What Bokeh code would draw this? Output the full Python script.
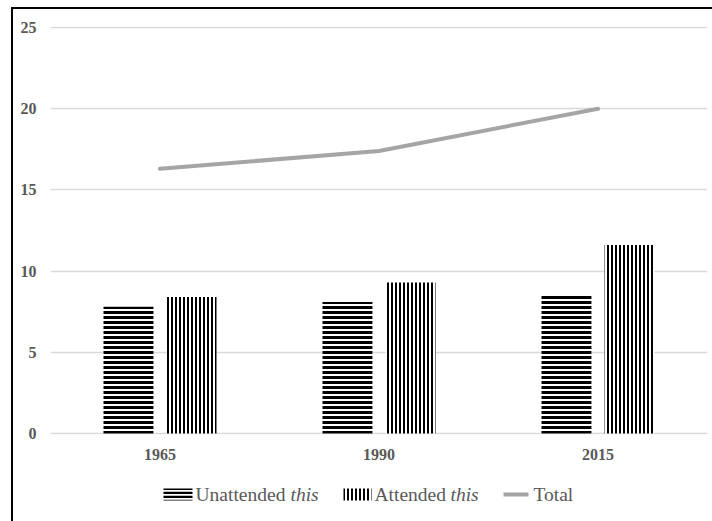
from bokeh.plotting import figure
from bokeh.models import ColumnDataSource, FactorRange, Range1d, FixedTicker
from bokeh.layouts import column
from bokeh.transform import dodge
from bokeh.core.properties import value
from bokeh.embed import file_html
from bokeh.resources import INLINE

years = ["1965", "1990", "2015"]
unattended = [7.8, 8.1, 8.5]
attended = [8.4, 9.3, 11.6]
total = [16.3, 17.4, 20.0]
y_ticks = [0, 5, 10, 15, 20, 25]
legend_labels = ["Unattended", "Attended", "Total"]
legend_suffix = ["this", "this"]

FONT = "Liberation Serif"
TXT = "#595959"
GRAY = "#a5a5a5"

src = ColumnDataSource(dict(year=years, unattended=unattended, attended=attended, total=total))

p = figure(width=699, height=461, x_range=FactorRange(*years, range_padding=0),
           y_range=Range1d(-0.062, 25.062), output_backend="svg", toolbar_location=None,
           min_border_left=37, min_border_right=5, min_border_top=17, min_border_bottom=36)
p.outline_line_color = None
p.border_fill_color = "white"

p.vbar(x=dodge("year", -0.144, range=p.x_range), top="unattended", width=0.228, source=src,
       fill_color="white", line_color=None, hatch_pattern="horizontal_line",
       hatch_color="black", hatch_scale=5, hatch_weight=3)
p.vbar(x=dodge("year", 0.144, range=p.x_range), top="attended", width=0.228, source=src,
       fill_color="white", line_color=None, hatch_pattern="vertical_line",
       hatch_color="black", hatch_scale=4, hatch_weight=2)
p.line(x="year", y="total", source=src, line_color=GRAY, line_width=4, line_cap="round")

p.xgrid.grid_line_color = None
p.ygrid.grid_line_color = "#d9d9d9"
p.ygrid.grid_line_width = 1.5
p.yaxis.ticker = FixedTicker(ticks=y_ticks)

for ax in (p.xaxis[0], p.yaxis[0]):
    ax.axis_line_color = None
    ax.major_tick_line_color = None
    ax.minor_tick_line_color = None
    ax.major_label_text_font = FONT
    ax.major_label_text_font_style = "bold"
    ax.major_label_text_font_size = "16px"
    ax.major_label_text_color = TXT
p.yaxis.major_label_standoff = 8
p.xaxis.major_label_standoff = 8

# legend strip (its frame is aligned with the chart frame; coordinates are page pixels)
leg = figure(width=699, height=51, x_range=Range1d(50, 707), y_range=Range1d(521, 470),
             output_backend="svg", toolbar_location=None,
             min_border_left=0, min_border_right=0, min_border_top=0, min_border_bottom=0)
leg.axis.visible = False
leg.grid.grid_line_color = None
leg.outline_line_color = None
leg.border_fill_color = "white"

LY = 494
leg.quad(left=[163], right=[192], top=[488], bottom=[500], fill_color="white", line_color=None,
         hatch_pattern="horizontal_line", hatch_color="black", hatch_scale=4, hatch_weight=2.5)
leg.quad(left=[343], right=[371], top=[488], bottom=[500], fill_color="white", line_color=None,
         hatch_pattern="vertical_line", hatch_color="black", hatch_scale=4, hatch_weight=2)
leg.segment(x0=[503], x1=[528], y0=[LY], y1=[LY], line_color=GRAY, line_width=4)

leg.text(x=[195, 374, 533], y=[LY] * 3, text=legend_labels, text_baseline="middle",
         text_font=value(FONT), text_font_size="19.5px", text_color=TXT)
leg.text(x=[290, 450], y=[LY] * 2, text=legend_suffix, text_baseline="middle",
         text_font=value(FONT), text_font_style="italic", text_font_size="19.5px", text_color=TXT)

lay = column(p, leg, spacing=0, margin=(7, 0, 0, 11),
             styles={"border-left": "2px solid black", "border-top": "2px solid black",
                     "background": "white"})

open("out.html", "w").write(file_html(lay, INLINE))
